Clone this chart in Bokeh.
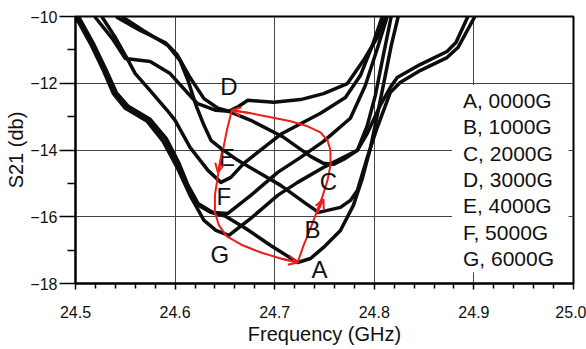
from bokeh.plotting import figure
from bokeh.models import Range1d, FixedTicker, NumeralTickFormatter, Arrow, OpenHead, ColumnDataSource
from bokeh.core.properties import value
from bokeh.embed import file_html
from bokeh.resources import INLINE

# ---------------- data ----------------
freq_A = [24.501, 24.516, 24.529, 24.539, 24.551, 24.573, 24.590, 24.603, 24.612, 24.622, 24.636, 24.651,
          24.671, 24.696, 24.723, 24.736, 24.749, 24.766, 24.779, 24.788, 24.796, 24.803, 24.810, 24.817, 24.824]
s21_A = [-10.00, -10.81, -11.62, -12.28, -12.69, -13.08, -13.65, -14.40, -15.09, -15.63, -15.87, -15.99,
         -16.35, -16.86, -17.37, -17.25, -16.92, -16.41, -15.66, -14.85, -13.95, -12.96, -11.92, -10.87, -10.00]

freq_B = [24.548, 24.568, 24.593, 24.605, 24.613, 24.621, 24.629, 24.636, 24.646, 24.663, 24.706, 24.731,
          24.744, 24.766, 24.776, 24.783, 24.793, 24.803, 24.816, 24.826, 24.846, 24.873, 24.884, 24.901]
s21_B = [-10.03, -10.42, -10.87, -11.32, -11.92, -12.66, -13.26, -13.71, -13.95, -14.31, -15.06, -15.60,
         -15.87, -15.72, -15.51, -15.21, -14.22, -13.32, -12.28, -11.98, -11.62, -11.23, -10.93, -10.00]

freq_C = [24.542, 24.565, 24.590, 24.602, 24.615, 24.629, 24.643, 24.654, 24.676, 24.709, 24.736, 24.749,
          24.759, 24.771, 24.783, 24.793, 24.806, 24.816, 24.823, 24.846, 24.873, 24.882, 24.894]
s21_C = [-10.03, -10.42, -10.78, -11.14, -11.83, -12.46, -12.75, -12.84, -13.11, -13.62, -14.19, -14.40,
         -14.43, -14.25, -14.01, -13.50, -12.66, -12.13, -11.83, -11.44, -11.05, -10.78, -10.00]

freq_D = [24.520, 24.537, 24.550, 24.575, 24.595, 24.622, 24.641, 24.654, 24.664, 24.673, 24.699, 24.726,
          24.749, 24.773, 24.789, 24.803, 24.811]
s21_D = [-10.03, -10.66, -11.26, -11.35, -11.71, -12.60, -12.81, -12.84, -12.69, -12.51, -12.57, -12.49,
         -12.31, -12.01, -11.32, -10.63, -10.00]

freq_E = [24.527, 24.540, 24.553, 24.560, 24.575, 24.592, 24.600, 24.615, 24.633, 24.646, 24.656, 24.669,
          24.706, 24.746, 24.771, 24.786, 24.798, 24.808]
s21_E = [-10.03, -10.63, -11.32, -11.71, -12.22, -12.81, -13.11, -13.92, -14.61, -14.97, -14.82, -14.40,
         -13.53, -12.90, -12.43, -11.77, -10.87, -10.00]

freq_F = [24.503, 24.518, 24.531, 24.541, 24.553, 24.575, 24.591, 24.604, 24.613, 24.623, 24.638, 24.653,
          24.676, 24.703, 24.726, 24.749, 24.776, 24.791, 24.804, 24.813]
s21_F = [-10.00, -10.81, -11.62, -12.28, -12.69, -13.08, -13.65, -14.40, -15.06, -15.60, -15.87, -15.90,
         -15.36, -14.67, -14.22, -13.74, -13.05, -12.07, -10.87, -10.00]

freq_G = [24.500, 24.515, 24.528, 24.538, 24.550, 24.572, 24.588, 24.602, 24.615, 24.629, 24.641, 24.654,
          24.676, 24.703, 24.723, 24.751, 24.783, 24.793, 24.801, 24.809, 24.817]
s21_G = [-10.00, -10.81, -11.62, -12.31, -12.75, -13.14, -13.74, -14.52, -15.36, -16.11, -16.41, -16.56,
         -16.05, -15.36, -14.97, -14.49, -14.01, -13.26, -12.37, -11.17, -10.00]

# red hysteresis loop A -> C -> D -> E/F -> G -> A
loop_f = [24.723, 24.729, 24.736, 24.742, 24.748, 24.753, 24.756, 24.756, 24.753, 24.746, 24.733, 24.716,
          24.696, 24.676, 24.657, 24.652, 24.647, 24.643, 24.640, 24.640, 24.644, 24.652, 24.666, 24.686,
          24.706, 24.723]
loop_db = [-17.37, -16.86, -16.35, -15.87, -15.39, -14.91, -14.46, -14.01, -13.71, -13.47, -13.29, -13.14,
           -13.02, -12.90, -12.81, -13.41, -14.16, -14.76, -15.36, -15.87, -16.26, -16.59, -16.83, -17.07,
           -17.25, -17.37]
arrow_f0 = [24.706, 24.742, 24.676, 24.647]
arrow_db0 = [-17.25, -15.93, -12.90, -14.07]
arrow_f1 = [24.723, 24.749, 24.657, 24.643]
arrow_db1 = [-17.37, -15.48, -12.81, -14.67]

curve_letters = ["A", "B", "C", "D", "E", "F", "G"]
letter_f = [24.745, 24.738, 24.754, 24.654, 24.652, 24.649, 24.645]
letter_db = [-17.57, -16.38, -14.94, -12.10, -14.22, -15.39, -17.13]

legend_labels = ["A, 0000G", "B, 1000G", "C, 2000G", "D, 3000G", "E, 4000G", "F, 5000G", "G, 6000G"]
legend_f = 24.889
legend_db = [-12.52, -13.31, -14.09, -14.88, -15.67, -16.46, -17.25]

x_major = [24.5, 24.6, 24.7, 24.8, 24.9, 25.0]
x_minor = [24.52, 24.54, 24.56, 24.58, 24.62, 24.64, 24.66, 24.68, 24.72, 24.74, 24.76, 24.78,
           24.82, 24.84, 24.86, 24.88, 24.92, 24.94, 24.96, 24.98]
y_major = [-18, -16, -14, -12, -10]
y_minor = [-17, -15, -13, -11]

FONT = "Liberation Sans"

# ---------------- figure ----------------
p = figure(width=586, height=349, output_backend="svg", toolbar_location=None,
           x_range=Range1d(24.5, 25.0), y_range=Range1d(-18, -10),
           min_border_left=75, min_border_right=13, min_border_top=16, min_border_bottom=66)
p.background_fill_color = "white"
p.border_fill_color = "white"
p.outline_line_color = "black"
p.outline_line_width = 2

p.xaxis.ticker = FixedTicker(ticks=x_major, minor_ticks=x_minor)
p.yaxis.ticker = FixedTicker(ticks=y_major, minor_ticks=y_minor)
p.xaxis.formatter = NumeralTickFormatter(format="0.0")
p.xgrid.ticker = FixedTicker(ticks=[24.6, 24.7, 24.8, 24.9])
p.ygrid.ticker = FixedTicker(ticks=[-16, -14, -12])
for g in (p.xgrid, p.ygrid):
    g.grid_line_color = "#444444"
    g.grid_line_width = 1

for ax in (p.xaxis, p.yaxis):
    ax.axis_line_width = 2
    ax.axis_line_color = "black"
    ax.major_tick_line_width = 1.5
    ax.minor_tick_line_width = 1.5
    ax.major_tick_line_color = "black"
    ax.minor_tick_line_color = "black"
    ax.major_tick_in = 0
    ax.minor_tick_in = 0
    ax.major_label_text_font = FONT
    ax.major_label_text_font_size = "16px"
    ax.major_label_text_color = "#111111"
    ax.axis_label_text_font = FONT
    ax.axis_label_text_font_size = "20px"
    ax.axis_label_text_font_style = "normal"
    ax.axis_label_text_color = "#111111"

p.xaxis.major_tick_out = 6
p.xaxis.minor_tick_out = 5
p.xaxis.major_label_standoff = 16
p.xaxis.axis_label = "Frequency (GHz)"
p.xaxis.axis_label_standoff = 2

p.yaxis.major_tick_out = 16
p.yaxis.minor_tick_out = 8
p.yaxis.major_label_standoff = 2
p.yaxis.axis_label = "S21 (db)"
p.yaxis.axis_label_standoff = 0

# white backing of the legend text block (hides the grid behind it)
p.quad(left=[24.878], right=[24.995], top=[-12.06], bottom=[-17.66],
       fill_color="white", line_color=None)

curves = [(freq_A, s21_A), (freq_B, s21_B), (freq_C, s21_C), (freq_D, s21_D),
          (freq_E, s21_E), (freq_F, s21_F), (freq_G, s21_G)]
for fx, sy in curves:
    p.line(fx, sy, line_color="#0d0d0d", line_width=3.5, line_join="round", line_cap="round")

p.line(loop_f, loop_db, line_color="#ee1c1c", line_width=2, line_join="round")
arrow_src = ColumnDataSource(dict(x0=arrow_f0, y0=arrow_db0, x1=arrow_f1, y1=arrow_db1))
p.add_layout(Arrow(x_start="x0", y_start="y0", x_end="x1", y_end="y1", source=arrow_src,
                   line_color="#ee1c1c", line_width=2,
                   end=OpenHead(size=9, line_color="#ee1c1c", line_width=2)))

p.text(x=letter_f, y=letter_db, text=curve_letters, text_font=value(FONT), text_font_size="24px",
       text_align="center", text_baseline="middle", text_color="#111111")

p.text(x=[legend_f] * len(legend_labels), y=legend_db, text=legend_labels, text_font=value(FONT),
       text_font_size="21px", text_align="left", text_baseline="middle", text_color="#111111")

open("out.html", "w").write(file_html(p, INLINE))
